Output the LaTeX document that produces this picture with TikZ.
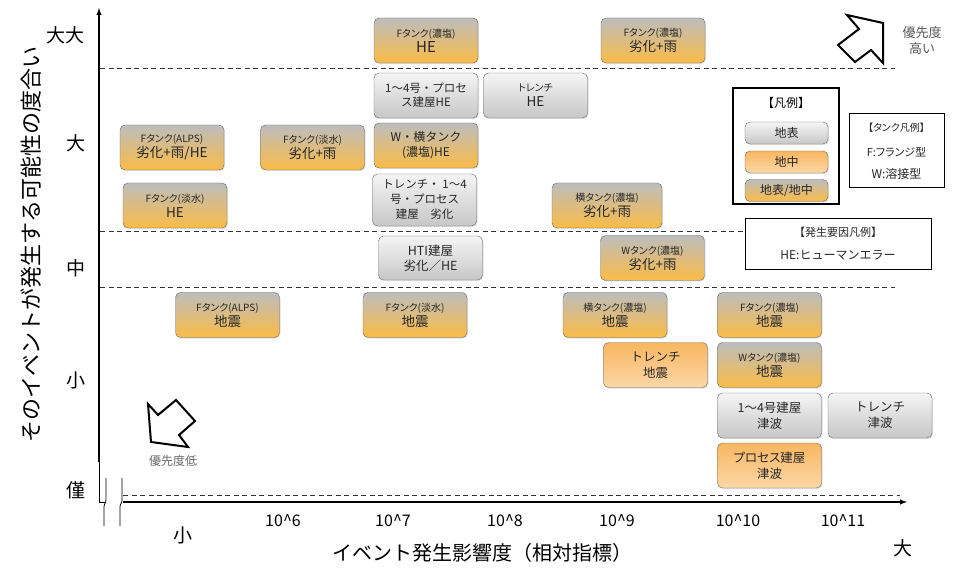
\documentclass[tikz,border=0pt]{standalone}
\usepackage{fontspec}
\setmainfont{Noto Sans CJK JP}
\newfontfamily\pj{Noto Sans CJK JP}[RawFeature=+palt]
\usepackage{tikz}
\usetikzlibrary{positioning}
\usetikzlibrary{shadows}
\usetikzlibrary{arrows.meta}
\definecolor{ocol}{RGB}{250,188,70}
\definecolor{ucol}{RGB}{249,182,96}
\colorlet{tcol}{black!85}
\tikzset{>=latex}
\tikzset{
  box/.style={draw=black!60, rounded corners=5pt, minimum width=104pt, minimum height=45pt,
    inner sep=1pt, align=center, text=tcol, font=\fontsize{13.5}{15}\selectfont,
    drop shadow={opacity=0.25, shadow xshift=1pt, shadow yshift=-1pt}},
  mixbox/.style={box, top color=black!26, bottom color=ocol},
  surfbox/.style={box, top color=black!4, bottom color=black!22},
  undbox/.style={box, top color=ucol, bottom color=ucol!55},
  dline/.style={dash pattern=on 5pt off 3.5pt, line width=0.9pt, black!80},
  bigarrow/.style={draw, line width=2pt, line join=miter, fill=white},
  axlab/.style={font=\fontsize{19}{19}\selectfont}
}
\newcommand{\sm}[1]{{\pj\fontsize{10}{11}\selectfont #1}}

\begin{document}
\begin{tikzpicture}[x=1pt,y=-1pt]
\useasboundingbox (0,0) rectangle (953,569);

% Dashed level lines
\draw[dline] (100,68) -- (895,68);
\draw[dline] (100,231) -- (745,231);
\draw[dline] (100,287) -- (895,287);
\draw[dline] (123,495) -- (900,495);

% Axes
\draw[->, line width=1.4pt] (99,462) -- (99,8);
\draw[line width=0.7pt] (99,462) -- (99,502) -- (105,502);
\draw[->, line width=1.4pt] (123,502) -- (907,502);

% Axis break
\draw[line width=0.8pt] (106,478) -- (106,500) .. controls (106,504) and (104,503) .. (104,507) -- (104,526);
\draw[line width=0.8pt] (122,478) -- (122,500) .. controls (122,504) and (120,503) .. (120,507) -- (120,526);

% Vertical axis labels
\node[rotate=90, font=\fontsize{22}{22}\selectfont] (ylab) at (31,244) {そのイベントが発生する可能性の度合い};
\node[axlab] (yvb) at (65,35) {大大};
\node[axlab] (yb) at (76,143) {大};
\node[axlab] (ym) at (76,268) {中};
\node[axlab] (ys) at (76,380) {小};
\node[axlab] (yl) at (76,490) {僅};

% Horizontal axis labels
\foreach \x/\t in {283/6, 393/7, 505/8, 617/9, 738/10, 843/11}
  \node[font=\fontsize{16}{16}\selectfont] (t\t) at (\x,521) {10\textasciicircum\t};
\node[axlab] (xs) at (183,535) {小};
\node[axlab] (xb) at (903,548) {大};
\node[font=\fontsize{20}{20}\selectfont] (xlab) at (482,553) {イベント発生影響度（相対指標）};

% Priority arrows
\draw[bigarrow] (883,23) -- (847,15) -- (859,29) -- (838,45) -- (855,62) -- (871,50) -- (883,63) -- cycle;
\node[align=center, text=black!65, font=\fontsize{13}{16}\selectfont] (phigh) at (922,41) {優先度\\高い};
\draw[bigarrow] (151,442) -- (148,404) -- (158,415) -- (176,400) -- (195,421) -- (179,435) -- (188,447) -- cycle;
\node[text=black!60, font=\fontsize{12}{12}\selectfont] (plow) at (173,461) {優先度低};

% Events: very large
\node[mixbox] (ft1) at (426,40.5) {\sm{Fタンク(濃塩)}\\{\fontsize{15}{17}\selectfont HE}};
\node[mixbox] (ft2) at (653,40.5) {\sm{Fタンク(濃塩)}\\劣化+雨};

% Events: large
\node[surfbox, font=\fontsize{11.5}{14}\selectfont] (bld1) at (426,95.5) {1〜4号・プロセ\\ス建屋HE};
\node[surfbox] (tr1) at (535.5,95.5) {\sm{トレンチ}\\HE};
\node[mixbox, font=\fontsize{12}{15}\selectfont] (wt1) at (426,145.5) {W・横タンク\\(濃塩)HE};
\node[mixbox] (fa1) at (172,147.5) {\sm{Fタンク(ALPS)}\\劣化+雨/HE};
\node[mixbox] (ff1) at (312.5,147.5) {\sm{Fタンク(淡水)}\\劣化+雨};
\node[mixbox] (ff2) at (175,205.5) {\sm{Fタンク(淡水)}\\HE};
\node[surfbox, minimum height=52pt, font=\fontsize{11.5}{15}\selectfont] (tr2) at (424.5,200) {トレンチ・ 1〜4\\号・プロセス\\建屋　劣化};
\node[mixbox, minimum width=110pt] (yt1) at (607,205.5) {\sm{横タンク(濃塩)}\\劣化+雨};

% Events: middle
\node[surfbox, minimum height=44pt, font=\fontsize{12.5}{15}\selectfont] (hti) at (430.5,258) {HTI建屋\\劣化／HE};
\node[mixbox] (wt2) at (652.5,258) {\sm{Wタンク(濃塩)}\\劣化+雨};

% Events: small
\node[mixbox] (fa2) at (227.5,315) {\sm{Fタンク(ALPS)}\\地震};
\node[mixbox] (ff3) at (415,315) {\sm{Fタンク(淡水)}\\地震};
\node[mixbox] (yt2) at (615,315) {\sm{横タンク(濃塩)}\\地震};
\node[mixbox] (ft3) at (769.5,315) {\sm{Fタンク(濃塩)}\\地震};
\node[undbox, font=\fontsize{12.5}{16}\selectfont] (tr3) at (655.5,365) {トレンチ\\地震};
\node[mixbox] (wt3) at (769.5,365) {\sm{Wタンク(濃塩)}\\地震};
\node[surfbox, font=\fontsize{12.5}{16}\selectfont] (bld2) at (769.5,415.5) {1〜4号建屋\\津波};
\node[surfbox, font=\fontsize{12.5}{16}\selectfont] (tr4) at (880,415.5) {トレンチ\\津波};
\node[undbox, font=\fontsize{12.5}{16}\selectfont] (prc) at (769.5,465.5) {{\pj プロセス建屋}\\津波};

% Legend
\node[draw, line width=1.5pt, minimum width=106pt, minimum height=116pt] (lg) at (786,146) {};
\node[font=\fontsize{12}{12}\selectfont] (lgt) at (786,103) {【凡例】};
\node[surfbox, minimum width=83pt, minimum height=22pt, font=\fontsize{12}{12}\selectfont] (lgs) at (786.5,133) {地表};
\node[undbox, minimum width=83pt, minimum height=22pt, font=\fontsize{12}{12}\selectfont] (lgu) at (786.5,162) {地中};
\node[mixbox, minimum width=83pt, minimum height=22pt, font=\fontsize{12}{12}\selectfont] (lgm) at (786.5,190.5) {地表/地中};

% Tank legend
\node[draw, line width=0.8pt, minimum width=95pt, minimum height=74pt] (tlg) at (896.5,150) {};
\node[text=tcol, font=\pj\fontsize{10}{10}\selectfont] (tlg1) at (896.5,128) {【タンク凡例】};
\node[text=tcol, font=\pj\fontsize{11}{11}\selectfont] (tlg2) at (896.5,152) {F:フランジ型};
\node[text=tcol, font=\fontsize{12}{12}\selectfont] (tlg3) at (896.5,174) {W:溶接型};

% Cause legend
\node[draw, line width=0.8pt, minimum width=186pt, minimum height=51pt, fill=white] (clg) at (838,243.5) {};
\node[text=tcol, font=\fontsize{11}{11}\selectfont] (clg1) at (838,232) {【発生要因凡例】};
\node[text=tcol, font=\fontsize{12}{12}\selectfont] (clg2) at (838,255) {HE:ヒューマンエラー};

\end{tikzpicture}
\end{document}
